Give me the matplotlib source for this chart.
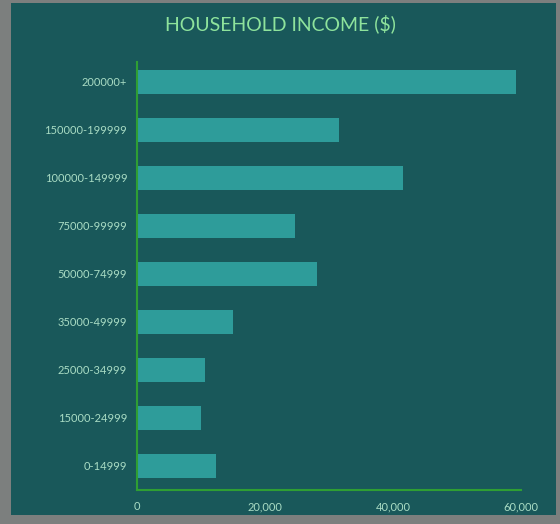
import matplotlib.pyplot as plt
from matplotlib.patches import Rectangle
from matplotlib.ticker import FuncFormatter

categorias = ["0-14999", "15000-24999", "25000-34999", "35000-49999",
              "50000-74999", "75000-99999", "100000-149999",
              "150000-199999", "200000+"]
hogares = [12300, 10000, 10600, 15000, 28100, 24700, 41500, 31500, 59200]

fondo = "#19585a"
barra = "#2e9c9a"
texto = "#a9dcc4"
verde = "#2f9e33"

plt.rcParams['font.family'] = ['Lato', 'DejaVu Sans']

fig = plt.figure(figsize=(5.6, 5.24), dpi=100, facecolor="#7c7f7e")
# panel de fondo dentro del marco gris
fig.add_artist(Rectangle((11 / 560, 9 / 524), 545 / 560, 512 / 524,
                         transform=fig.transFigure, facecolor=fondo,
                         edgecolor="none", zorder=-10))

ax = fig.add_axes([0.2446, 0.065, 0.686, 0.817])
ax.set_facecolor(fondo)
ax.barh(categorias, hogares, height=0.5, color=barra, zorder=2)

ax.set_xlim(0, 60000)
ax.set_ylim(-0.5, 8.42)
ax.set_xticks([0, 20000, 40000, 60000])
ax.xaxis.set_major_formatter(FuncFormatter(lambda v, p: f"{int(v):,}"))

for lado in ["top", "right"]:
    ax.spines[lado].set_visible(False)
for lado in ["left", "bottom"]:
    ax.spines[lado].set_color(verde)
    ax.spines[lado].set_linewidth(1.5)

ax.tick_params(axis="both", length=0, colors=texto, labelsize=8)
ax.tick_params(axis="x", pad=8)
ax.tick_params(axis="y", pad=7)

fig.text(0.5, 0.955, "HOUSEHOLD INCOME ($)", ha="center", va="center",
         color="#8ee39c", fontsize=14)

plt.savefig("out.png", dpi=100, facecolor=fig.get_facecolor())
